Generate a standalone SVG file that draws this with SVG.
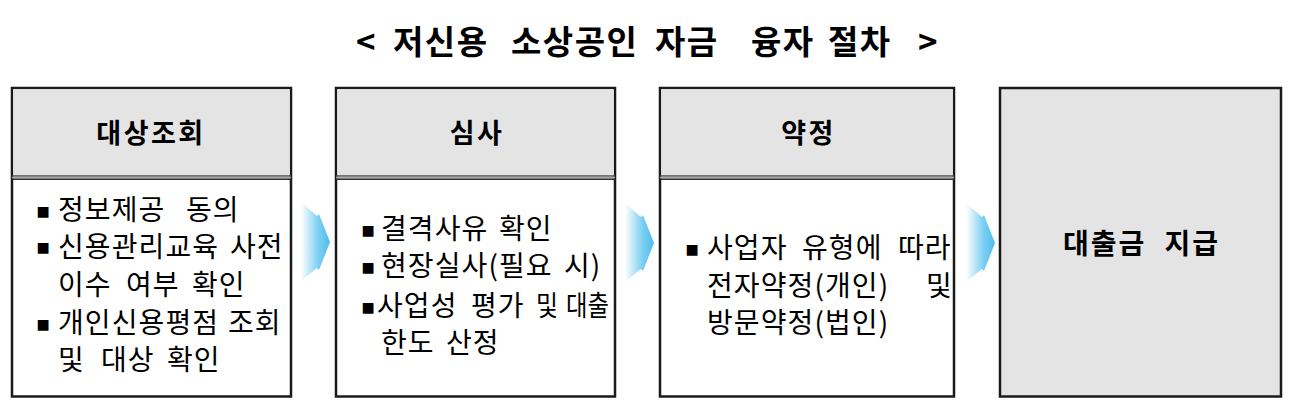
<svg xmlns="http://www.w3.org/2000/svg" width="1291" height="400" viewBox="0 0 1291 400">
<style>
  .frame { fill: #ffffff; stroke: #1a1a1a; stroke-width: 2.5; }
  .head { fill: #e4e4e4; }
  .sepA { stroke: #4a4a4a; stroke-width: 1.6; }
  .sepB { stroke: #a8a8a8; stroke-width: 1.6; }
  .sepC { stroke: #2e2e2e; stroke-width: 1.6; }
  .title { font-family: "Noto Sans CJK KR", "Noto Sans", sans-serif; font-weight: bold; font-size: 33px; letter-spacing: 1.5px; fill: #000; }
  .htext { font-family: "Noto Sans CJK KR", "Noto Sans", sans-serif; font-weight: bold; font-size: 27px; fill: #000; text-anchor: middle; letter-spacing: 2.5px; }
  .body { font-family: "Noto Sans CJK KR", "Noto Sans", sans-serif; font-size: 28px; letter-spacing: 1.1px; fill: #000; }
  .bul { font-family: "DejaVu Sans", sans-serif; font-size: 14px; fill: #000; }
  .arrow { fill: url(#ag); }
</style>
<defs>
  <linearGradient id="ag" x1="0" y1="0" x2="1" y2="0">
    <stop offset="0" stop-color="#5bc3ee" stop-opacity="0"/>
    <stop offset="0.6" stop-color="#5bc3ee" stop-opacity="0.8"/>
    <stop offset="1" stop-color="#4cbcec" stop-opacity="1"/>
  </linearGradient>
  <polygon id="chev" points="0,0 16,14 18,12 29,40 18,68 16,66 0,79"/>
</defs>
<rect width="1291" height="400" fill="#ffffff"/>

<g id="title">
  <text class="title" y="54">
    <tspan x="356">&lt;</tspan>
    <tspan x="393">저신용</tspan>
    <tspan x="511">소상공인</tspan>
    <tspan x="655">자금</tspan>
    <tspan x="751">융자</tspan>
    <tspan x="828">절차</tspan>
    <tspan x="918">&gt;</tspan>
  </text>
</g>

<g id="node-1">
  <rect class="frame" x="12" y="88" width="279" height="308.5"/>
  <rect class="head" x="13.25" y="89.25" width="276.5" height="86"/>
  <line class="sepA" x1="12" y1="176" x2="291" y2="176"/>
  <line class="sepB" x1="12" y1="177.6" x2="291" y2="177.6"/>
  <line class="sepC" x1="12" y1="179.2" x2="291" y2="179.2"/>
  <text class="htext" x="151" y="143">대상조회</text>
  <text class="bul" x="36.5" y="215.5">■</text>
  <text class="body" y="220"><tspan x="58">정보제공</tspan><tspan x="186">동의</tspan></text>
  <text class="bul" x="36.5" y="252">■</text>
  <text class="body" y="256.5"><tspan x="58">신용관리교육</tspan><tspan x="230">사전</tspan></text>
  <text class="body" y="295"><tspan x="58">이수</tspan><tspan x="126">여부</tspan><tspan x="192">확인</tspan></text>
  <text class="bul" x="36.5" y="328.5">■</text>
  <text class="body" y="333"><tspan x="58">개인신용평점</tspan><tspan x="228">조회</tspan></text>
  <text class="body" y="370"><tspan x="58">및</tspan><tspan x="101">대상</tspan><tspan x="167">확인</tspan></text>
</g>

<g id="node-2">
  <rect class="frame" x="336" y="88" width="279" height="308.5"/>
  <rect class="head" x="337.25" y="89.25" width="276.5" height="86"/>
  <line class="sepA" x1="336" y1="176" x2="615" y2="176"/>
  <line class="sepB" x1="336" y1="177.6" x2="615" y2="177.6"/>
  <line class="sepC" x1="336" y1="179.2" x2="615" y2="179.2"/>
  <text class="htext" x="477" y="143">심사</text>
  <text class="bul" x="361.5" y="234.5">■</text>
  <text class="body" y="239"><tspan x="381">결격사유</tspan><tspan x="499">확인</tspan></text>
  <text class="bul" x="361.5" y="271.5">■</text>
  <text class="body" y="276"><tspan x="381">현장실사(필요</tspan><tspan x="564">시)</tspan></text>
  <text class="bul" x="361.5" y="311.5">■</text>
  <text class="body" y="316"><tspan x="377">사업성</tspan><tspan x="471">평가</tspan></text>
  <text class="body" x="536" y="316" textLength="22" lengthAdjust="spacingAndGlyphs" style="letter-spacing:0">및</text>
  <text class="body" x="566" y="316" textLength="43" lengthAdjust="spacingAndGlyphs" style="letter-spacing:0">대출</text>
  <text class="body" y="353"><tspan x="381">한도</tspan><tspan x="446">산정</tspan></text>
</g>

<g id="node-3">
  <rect class="frame" x="660" y="88" width="294" height="308.5"/>
  <rect class="head" x="661.25" y="89.25" width="291.5" height="86"/>
  <line class="sepA" x1="660" y1="176" x2="954" y2="176"/>
  <line class="sepB" x1="660" y1="177.6" x2="954" y2="177.6"/>
  <line class="sepC" x1="660" y1="179.2" x2="954" y2="179.2"/>
  <text class="htext" x="808.5" y="143">약정</text>
  <text class="bul" x="685.5" y="253.5">■</text>
  <text class="body" y="258"><tspan x="707">사업자</tspan><tspan x="802">유형에</tspan><tspan x="898">따라</tspan></text>
  <text class="body" y="296"><tspan x="707">전자약정(개인)</tspan><tspan x="926">및</tspan></text>
  <text class="body" y="333"><tspan x="707">방문약정(법인)</tspan></text>
</g>

<g id="node-4">
  <rect class="frame" x="1000" y="88" width="281" height="308.5" style="fill:#e4e4e4"/>
  <text class="htext" x="1141.5" y="253.5" style="font-size:28px;letter-spacing:2px" word-spacing="10">대출금 지급</text>
</g>

<g id="connectors">
  <use href="#chev" class="arrow" x="301" y="202"/>
  <use href="#chev" class="arrow" x="625" y="203"/>
  <use href="#chev" class="arrow" x="966" y="203"/>
</g>
</svg>
